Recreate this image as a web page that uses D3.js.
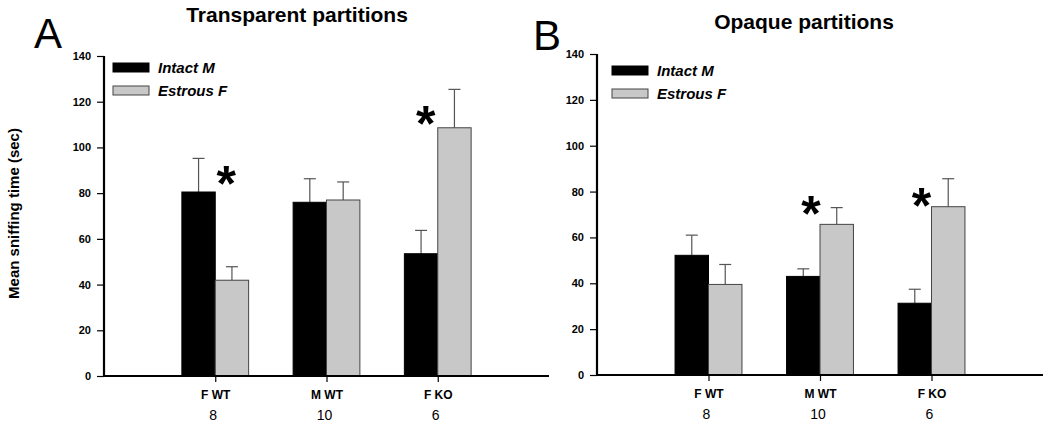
<!DOCTYPE html>
<html><head><meta charset="utf-8">
<script src="https://cdn.jsdelivr.net/npm/d3@7"></script>
<style>
html,body{margin:0;padding:0;background:#fff;}
svg{display:block;font-family:Arial,"Liberation Sans",sans-serif;}
</style></head>
<body>
<svg id="chart" width="1050" height="426"></svg>
<script>
// ---- data ----
const categories = ["F WT", "M WT", "F KO"];
const groupSizes = ["8", "10", "6"];
const seriesNames = ["Intact M", "Estrous F"];
const yTicks = [0, 20, 40, 60, 80, 100, 120, 140];

const transIntact = [80.5, 76.0, 53.5];
const transIntactErr = [14.7, 10.3, 10.2];
const transEstrous = [41.9, 77.0, 108.6];
const transEstrousErr = [5.9, 7.9, 16.8];

const opaqueIntact = [52.2, 43.0, 31.3];
const opaqueIntactErr = [8.8, 3.3, 6.1];
const opaqueEstrous = [39.5, 65.7, 73.4];
const opaqueEstrousErr = [8.7, 7.3, 12.2];

// significance markers: category and height (value units)
const transStars = [{cat: "F WT", value: 88.0, dx: 11}, {cat: "F KO", value: 114.2, dx: -12}];
const opaqueStars = [{cat: "M WT", value: 74.1, dx: -9}, {cat: "F KO", value: 77.6, dx: -10}];

const svg = d3.select("#chart");
const fills = ["#000000", "#c8c8c8"];

function panel(opt) {
  const g = svg.append("g");
  const x = d3.scaleLinear().domain([0, categories.length + 1]).range([opt.x0, opt.x1]);
  const y = d3.scaleLinear().domain([0, 140]).range([opt.y0, opt.y1]);
  const bw = (x(1) - x(0)) * 0.3;

  // title and panel letter
  g.append("text").attr("x", opt.titleX).attr("y", opt.titleY)
    .attr("text-anchor", "middle").attr("font-size", 21).attr("font-weight", "bold")
    .text(opt.title);
  g.append("text").attr("x", opt.letterX).attr("y", opt.letterY)
    .attr("font-size", 42).text(opt.letter);

  // bars
  const series = [
    {vals: opt.intact, errs: opt.intactErr, off: -1},
    {vals: opt.estrous, errs: opt.estrousErr, off: 0}
  ];
  series.forEach((s, si) => {
    categories.forEach((c, i) => {
      const cx = x(i + 1);
      const left = cx + s.off * bw;
      const mid = left + bw / 2;
      // error bar
      const top = y(s.vals[i] + s.errs[i]);
      g.append("line").attr("x1", mid).attr("x2", mid)
        .attr("y1", y(s.vals[i])).attr("y2", top)
        .attr("stroke", "#555").attr("stroke-width", 1.2);
      g.append("line").attr("x1", mid - 6).attr("x2", mid + 6)
        .attr("y1", top).attr("y2", top)
        .attr("stroke", "#555").attr("stroke-width", 1.2);
      g.append("rect").attr("x", left).attr("y", y(s.vals[i]))
        .attr("width", bw).attr("height", y(0) - y(s.vals[i]))
        .attr("fill", fills[si])
        .attr("stroke", si === 0 ? "#000" : "#444").attr("stroke-width", 1);
    });
  });

  // y axis
  const ya = d3.axisLeft(y).tickValues(yTicks).tickSize(7).tickPadding(6);
  const yg = g.append("g").attr("transform", `translate(${opt.x0},0)`).call(ya);
  yg.select(".domain").attr("stroke-width", 2.2).attr("d", `M0,${y(0)}V${y(140)}`);
  yg.selectAll(".tick line").attr("stroke-width", 1.2);
  yg.selectAll(".tick text").attr("font-size", 11).attr("font-weight", "bold")
    .attr("font-family", "Arial, 'Liberation Sans', sans-serif");

  // x axis
  const xa = d3.axisBottom(x).tickValues(d3.range(1, categories.length + 1))
    .tickSize(6).tickFormat(d => categories[d - 1]).tickPadding(8);
  const xg = g.append("g").attr("transform", `translate(0,${opt.y0})`).call(xa);
  xg.select(".domain").attr("stroke-width", 2.2).attr("d", `M${opt.x0},0H${opt.x1}`);
  xg.selectAll(".tick line").attr("stroke-width", 1.2);
  xg.selectAll(".tick text").attr("font-size", 12).attr("font-weight", "bold")
    .attr("font-family", "Arial, 'Liberation Sans', sans-serif");

  // group sizes
  g.selectAll(".nlab").data(groupSizes).enter().append("text")
    .attr("x", (d, i) => x(i + 1) - 2).attr("y", opt.y0 + 44)
    .attr("text-anchor", "middle").attr("font-size", 14).text(d => d);

  // legend
  seriesNames.forEach((name, i) => {
    const ly = opt.legY + i * 23;
    g.append("rect").attr("x", opt.legX).attr("y", ly).attr("width", 36).attr("height", 9)
      .attr("fill", fills[i]).attr("stroke", i === 0 ? "#000" : "#444").attr("stroke-width", 1);
    g.append("text").attr("x", opt.legX + 45).attr("y", ly + 10)
      .attr("font-size", 15).attr("font-weight", "bold").attr("font-style", "italic")
      .text(name);
  });

  // stars
  opt.stars.forEach(s => {
    const ci = categories.indexOf(s.cat);
    const tx = x(ci + 1) + s.dx, ty = y(s.value);
    const t = g.append("text").attr("x", tx).attr("y", ty)
      .attr("text-anchor", "middle").attr("font-size", 50).attr("font-weight", "bold").text("*");
    // center glyph vertically on target: asterisk ink sits near cap top
    t.attr("y", ty + 50 * 0.52);
  });
}

panel({x0: 104, x1: 549, y0: 376, y1: 56, title: "Transparent partitions", titleX: 297, titleY: 22,
  letter: "A", letterX: 34, letterY: 48, legX: 113, legY: 63,
  intact: transIntact, intactErr: transIntactErr, estrous: transEstrous, estrousErr: transEstrousErr,
  stars: transStars});
panel({x0: 597, x1: 1043, y0: 375, y1: 54, title: "Opaque partitions", titleX: 804, titleY: 29,
  letter: "B", letterX: 533, letterY: 50, legX: 612, legY: 66,
  intact: opaqueIntact, intactErr: opaqueIntactErr, estrous: opaqueEstrous, estrousErr: opaqueEstrousErr,
  stars: opaqueStars});

// shared y label
svg.append("text").attr("transform", "translate(19,213.5) rotate(-90)")
  .attr("text-anchor", "middle").attr("font-size", 15).attr("font-weight", "bold")
  .text("Mean sniffing time (sec)");
</script>
</body></html>
